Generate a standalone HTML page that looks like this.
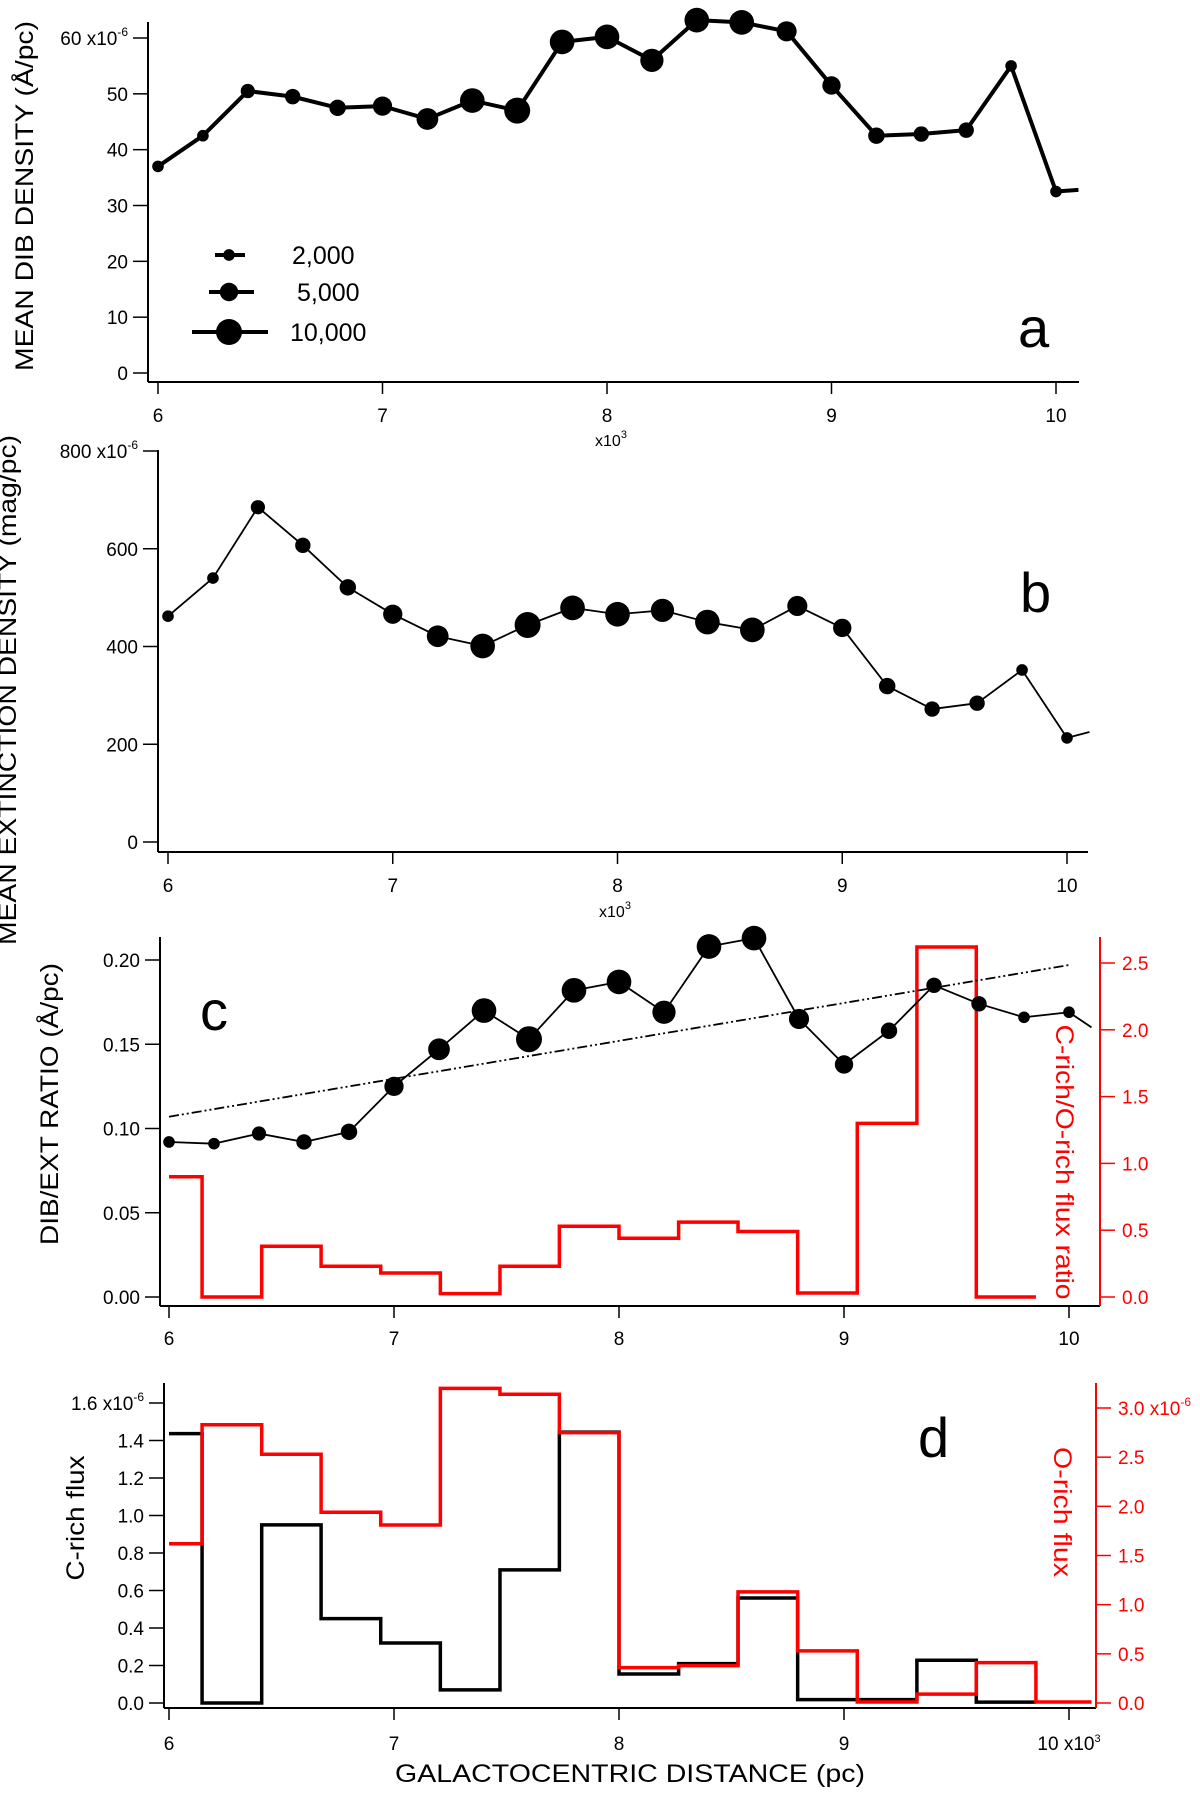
<!DOCTYPE html>
<html><head><meta charset="utf-8">
<style>
html,body{margin:0;padding:0;background:#fff;}
svg{display:block;font-family:"Liberation Sans",sans-serif;}
</style></head>
<body>
<svg id="fig" width="1200" height="1794" viewBox="0 0 1200 1794" xmlns="http://www.w3.org/2000/svg">
<rect width="1200" height="1794" fill="#fff"/>
<g id="root"></g>
</svg>
<script>
// ---- data ----
const distances = [6.0,6.2,6.4,6.6,6.8,7.0,7.2,7.4,7.6,7.8,8.0,8.2,8.4,8.6,8.8,9.0,9.2,9.4,9.6,9.8,10.0];
const sampleCounts = [2000,2000,3000,3500,4000,5500,7000,9000,10000,9000,9000,8000,9000,9000,6000,5000,4000,3500,3500,2000,2000];
const dibDensity = [37,42.5,50.5,49.5,47.5,47.8,45.5,48.8,47,59.3,60.2,56,63.2,62.8,61.2,51.5,42.5,42.8,43.5,55,32.5];
const dibTail = [10.1,32.8];
const extDensity = [462,540,685,607,521,466,421,401,444,479,466,474,450,434,483,438,319,272,284,352,213];
const extTail = [10.1,225];
const dibExtRatio = [0.092,0.091,0.097,0.092,0.098,0.125,0.147,0.170,0.153,0.182,0.187,0.169,0.208,0.213,0.165,0.138,0.158,0.185,0.174,0.166,0.169];
const ratioTail = [10.1,0.160];
const trendX = [6.0,10.0];
const trendY = [0.107,0.197];
const binEdges = [6.0,6.147,6.412,6.676,6.941,7.206,7.471,7.735,8.0,8.265,8.529,8.794,9.059,9.324,9.588,9.853,10.1];
const cOratio = [0.90,0,0.38,0.23,0.18,0.025,0.23,0.53,0.44,0.56,0.49,0.03,1.30,2.62,0];
const cRichFlux = [1.437,0,0.95,0.45,0.32,0.07,0.71,1.445,0.155,0.21,0.56,0.018,0.018,0.228,0.005];
const oRichFlux = [1.62,2.83,2.53,1.94,1.81,3.20,3.14,2.75,0.36,0.38,1.13,0.53,0.01,0.09,0.41,0.01];
const xTicks = [6,7,8,9,10];
const ticksA = [0,10,20,30,40,50,60];
const ticksB = [0,200,400,600,800];
const ticksC = [0,0.05,0.10,0.15,0.20];
const ticksCr = [0,0.5,1.0,1.5,2.0,2.5];
const ticksD = [0,0.2,0.4,0.6,0.8,1.0,1.2,1.4,1.6];
const ticksDr = [0,0.5,1.0,1.5,2.0,2.5,3.0];
const legendCounts = [2000,5000,10000];
const legendLabels = ["2,000","5,000","10,000"];

const NS="http://www.w3.org/2000/svg";
const root=document.getElementById('root');
function mk(tag,attrs,parent){const e=document.createElementNS(NS,tag);for(const k in attrs)e.setAttribute(k,attrs[k]);(parent||root).appendChild(e);return e;}
function txt(s,attrs,parent){const e=mk('text',attrs,parent);e.textContent=s;return e;}
function lin(a0,a1,p0,p1){return v=>p0+(v-a0)*(p1-p0)/(a1-a0);}
function rad(n){return 0.13*Math.sqrt(n);}

function xAxis(g,P,labelY,lastLabel){
  const ax=mk('line',{x1:P.ax,y1:P.ay,x2:P.right,y2:P.ay,stroke:'#000','stroke-width':2},g);
  
  xTicks.forEach(t=>{
    const tk=mk('line',{x1:P.sx(t),y1:P.ay,x2:P.sx(t),y2:P.ay+12,stroke:'#000','stroke-width':1.5},g);
    
    const lb=txt((t===10&&lastLabel)?lastLabel:String(t),{x:P.sx(t),y:labelY,'font-size':19,'text-anchor':'middle'},g);
    
  });
}
function yAxis(g,P,ticks,sy,fmt,topLabel,color,side){
  const x=side==='right'?P.rx:P.ax;
  const al=mk('line',{x1:x,y1:P.top,x2:x,y2:P.ay,stroke:color,'stroke-width':2},g);
  
  ticks.forEach((t,i)=>{
    const y=sy(t);
    const x2=side==='right'?x+15:x-15;
    const tk=mk('line',{x1:x,y1:y,x2:x2,y2:y,stroke:color,'stroke-width':1.5},g);
    
    let s=fmt(t);
    const lb=txt('',{x:side==='right'?x+22:x-20,y:y+7,'font-size':19,fill:color,'text-anchor':side==='right'?'start':'end'},g);
    lb.textContent=s;
    if(i===ticks.length-1&&topLabel){
      lb.textContent=s+' x10';
      const sup=mk('tspan',{dy:-9,'font-size':12},lb);sup.textContent='-6';
    }
    
  });
}
function vtitle(g,s,cx,cy,len,color,rot,size){
  const t=txt(s,{x:0,y:0,'font-size':size||25,'text-anchor':'middle',fill:color,textLength:len,lengthAdjust:'spacingAndGlyphs',transform:`translate(${cx},${cy}) rotate(${rot})`},g);
  return t;
}
function x103(g,x,y){
  const t=txt('x10',{x:x,y:y,'font-size':16,'text-anchor':'middle'},g);
  const s=mk('tspan',{dy:-8,'font-size':11},t);s.textContent='3';
  
}
function series(g,P,sy,vals,tail,w,name){
  let d='';vals.forEach((v,i)=>{d+=(i?'L':'M')+P.sx(distances[i])+' '+sy(v);});
  d+='L'+P.sx(tail[0])+' '+sy(tail[1]);
  const p=mk('path',{d:d,fill:'none',stroke:'#000','stroke-width':w,'stroke-linejoin':'round'},g);
  
  vals.forEach((v,i)=>{
    const c=mk('circle',{cx:P.sx(distances[i]),cy:sy(v),r:rad(sampleCounts[i]),fill:'#000'},g);
    
  });
}
function steps(g,P,sy,vals,color,name,w){
  let d='';
  vals.forEach((v,i)=>{d+=(i?'L':'M')+P.sx(binEdges[i])+' '+sy(v)+'L'+P.sx(binEdges[i+1])+' '+sy(v);});
  const p=mk('path',{d:d,fill:'none',stroke:color,'stroke-width':w||3.5},g);
  
}
function letter(g,s,x,y){const t=txt(s,{x:x,y:y,'font-size':56},g);}

// ---- panel a ----
{
  const g=mk('g',{});
  const P={sx:lin(6,10,158,1056),ax:148,ay:382,top:22,right:1079};
  const sy=lin(0,60,373,38);
  xAxis(g,P,422);
  yAxis(g,P,ticksA,sy,v=>String(v),true,'#000','left');
  series(g,P,sy,dibDensity,dibTail,4,'dib-density');
  x103(g,611,446);
  const t=vtitle(g,'MEAN DIB DENSITY (Å/pc)',33,196,350,'#000',-90);
  
  const lg=mk('g',{},g);
  const ly=[255,292,332],lx0=[215,209,192],lx1=[245,254,268];
  legendCounts.forEach((n,i)=>{
    const l=mk('line',{x1:lx0[i],y1:ly[i],x2:lx1[i],y2:ly[i],stroke:'#000','stroke-width':4},lg);
    
    const c=mk('circle',{cx:229,cy:ly[i],r:rad(n),fill:'#000'},lg);
    
    const tt=txt(legendLabels[i],{x:i===2?290:(i===1?297:292),y:ly[i]+9,'font-size':25},lg);
    
  });
  letter(g,'a',1018,347);
}
// ---- panel b ----
{
  const g=mk('g',{});
  const P={sx:lin(6,10,168,1067),ax:158,ay:852,top:450,right:1088};
  const sy=lin(0,800,842,451);
  xAxis(g,P,892);
  yAxis(g,P,ticksB,sy,v=>String(v),true,'#000','left');
  series(g,P,sy,extDensity,extTail,1.8,'extinction-density');
  x103(g,615,917);
  const t=vtitle(g,'MEAN EXTINCTION DENSITY (mag/pc)',16,690,510,'#000',-90);
  
  letter(g,'b',1020,612);
}
// ---- panel c ----
{
  const g=mk('g',{});
  const P={sx:lin(6,10,169,1069),ax:160,ay:1306,top:937,right:1100,rx:1100};
  const sy=lin(0,0.2,1297,960);
  const syr=lin(0,2.5,1297,963);
  steps(g,P,syr,cOratio,'#f00','c-rich-o-rich-ratio-steps',3.5);
  const tr=mk('line',{x1:P.sx(trendX[0]),y1:sy(trendY[0]),x2:P.sx(trendX[1]),y2:sy(trendY[1]),stroke:'#000','stroke-width':1.8,'stroke-dasharray':'10 3 2 3 2 3'},g);
  
  series(g,P,sy,dibExtRatio,ratioTail,1.8,'dib-ext-ratio');
  xAxis(g,P,1345);
  yAxis(g,P,ticksC,sy,v=>v.toFixed(2),false,'#000','left');
  yAxis(g,P,ticksCr,syr,v=>v.toFixed(1),false,'#f00','right');
  const t=vtitle(g,'DIB/EXT RATIO (Å/pc)',58,1104,282,'#000',-90);
  
  const t2=vtitle(g,'C-rich/O-rich flux ratio',1056,1162,275,'#f00',90);
  
  letter(g,'c',200,1030);
  const m=txt('x10',{x:630,y:1362,'font-size':16,'text-anchor':'middle'},g);
  
}
// cover clipped multiplier of panel c
mk('rect',{x:560,y:1350,width:140,height:12,fill:'#fff'});
// ---- panel d ----
{
  const g=mk('g',{});
  const P={sx:lin(6,10,169,1069),ax:164,ay:1708,top:1383,right:1096,rx:1096};
  const sy=lin(0,1.6,1703,1403);
  const syr=lin(0,3.0,1703,1408);
  steps(g,P,sy,cRichFlux,'#000','c-rich-flux-steps',3.5);
  steps(g,P,syr,oRichFlux,'#f00','o-rich-flux-steps',3.5);
  xAxis(g,P,1750,'10 x10');
  yAxis(g,P,ticksD,sy,v=>v.toFixed(1),true,'#000','left');
  yAxis(g,P,ticksDr,syr,v=>v.toFixed(1),true,'#f00','right');
  const lbls=g.querySelectorAll('text');
  lbls.forEach(l=>{if(l.textContent==='10 x10'){const s=mk('tspan',{dy:-8,'font-size':11},l);s.textContent='3';}});
  const t=vtitle(g,'C-rich flux',84,1518,125,'#000',-90);
  
  const t2=vtitle(g,'O-rich flux',1054,1512,130,'#f00',90);
  
  letter(g,'d',918,1457);
  const xt=txt('GALACTOCENTRIC DISTANCE (pc)',{x:630,y:1782,'font-size':25,'text-anchor':'middle',textLength:470,lengthAdjust:'spacingAndGlyphs'},g);
  
}
</script>
</body></html>
